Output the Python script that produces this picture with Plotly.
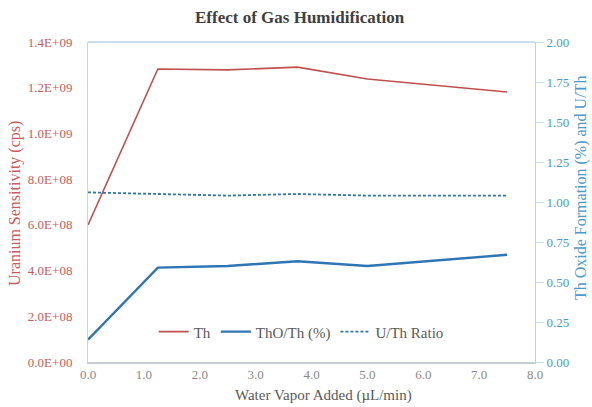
import plotly.graph_objects as go

water = [0.0, 1.25, 2.5, 3.75, 5.0, 7.5]
th_sens = [6.0e8, 1.282e9, 1.278e9, 1.29e9, 1.238e9, 1.181e9]
tho_th = [0.14, 0.59, 0.60, 0.63, 0.60, 0.67]
u_th = [1.06, 1.05, 1.04, 1.05, 1.04, 1.04]

left_ticks = [0, 2e8, 4e8, 6e8, 8e8, 1.0e9, 1.2e9, 1.4e9]
left_labels = ["0.0E+00", "2.0E+08", "4.0E+08", "6.0E+08", "8.0E+08", "1.0E+09", "1.2E+09", "1.4E+09"]
right_ticks = [0, 0.25, 0.5, 0.75, 1.0, 1.25, 1.5, 1.75, 2.0]
right_labels = ["0.00", "0.25", "0.50", "0.75", "1.00", "1.25", "1.50", "1.75", "2.00"]
x_ticks = [0, 1, 2, 3, 4, 5, 6, 7, 8]
x_labels = ["0.0", "1.0", "2.0", "3.0", "4.0", "5.0", "6.0", "7.0", "8.0"]

red = "#C0504D"
redlbl = "#CC5B5B"
blue = "#2E75B6"
rblue = "#4A9AD0"
font = "Liberation Serif, Times New Roman, DejaVu Serif, serif"

fig = go.Figure()
fig.add_trace(go.Scatter(x=water, y=th_sens, mode="lines", name="Th",
                         line=dict(color=red, width=1.6), yaxis="y"))
fig.add_trace(go.Scatter(x=water, y=tho_th, mode="lines", name="ThO/Th (%)",
                         line=dict(color=blue, width=2.4), yaxis="y2"))
fig.add_trace(go.Scatter(x=water, y=u_th, mode="lines", name="U/Th Ratio",
                         line=dict(color=blue, width=1.8, dash="3px,2px"), yaxis="y2"))

fig.update_layout(
    width=592, height=407,
    margin=dict(l=88, r=57, t=42, b=45),
    paper_bgcolor="white", plot_bgcolor="white",
    font=dict(family=font, size=13, color="#595959"),
    showlegend=True,
    legend=dict(orientation="h", x=0.147, y=0.094, xanchor="left", yanchor="middle",
                bgcolor="rgba(0,0,0,0)", font=dict(family=font, size=15, color="#595959"),
                itemwidth=30, tracegroupgap=0),
    xaxis=dict(range=[0, 8], tickvals=x_ticks, ticktext=x_labels, showgrid=False,
               zeroline=False, showline=True, linecolor="#C8CCD4", linewidth=1.5,
               ticks="", tickfont=dict(family=font, size=13, color="#8A8A8A")),
    yaxis=dict(range=[0, 1.4e9], tickvals=left_ticks, ticktext=left_labels, showgrid=False,
               zeroline=False, showline=True, linecolor="#D0D4DA", linewidth=1,
               ticks="outside", ticklen=12, tickcolor="rgba(0,0,0,0)",
               tickfont=dict(family=font, size=13, color=redlbl)),
    yaxis2=dict(range=[0, 2.0], tickvals=right_ticks, ticktext=right_labels, overlaying="y",
                side="right", showgrid=False, zeroline=False, showline=True,
                linecolor="#B8D4E8", linewidth=1, ticks="outside", ticklen=8,
                tickcolor="#C8DCEC", tickfont=dict(family=font, size=13, color=rblue)),
)
fig.add_shape(type="line", xref="paper", yref="paper", x0=0, x1=1, y0=1, y1=1,
              line=dict(color="#B8D4E8", width=1.5))

fig.add_annotation(text="<b>Effect of Gas Humidification</b>", xref="paper", yref="paper",
                   x=(300 - 88) / 447, y=1 + (42 - 17) / 320, xanchor="center", yanchor="middle",
                   showarrow=False, font=dict(family=font, size=17, color="#404040"))
fig.add_annotation(text="Water Vapor Added (µL/min)", xref="paper", yref="paper",
                   x=(323 - 88) / 447, y=-(395 - 362) / 320, xanchor="center", yanchor="middle",
                   showarrow=False, font=dict(family=font, size=15, color="#595959"))
fig.add_annotation(text="Uranium Sensitivity (cps)", xref="paper", yref="paper",
                   x=-(88 - 15) / 447, y=(362 - 204) / 320, xanchor="center", yanchor="middle",
                   textangle=-90, showarrow=False, font=dict(family=font, size=16, color=redlbl))
fig.add_annotation(text="Th Oxide Formation (%) and U/Th", xref="paper", yref="paper",
                   x=1 + (581 - 535) / 447, y=(362 - 188) / 320, xanchor="center", yanchor="middle",
                   textangle=-90, showarrow=False, font=dict(family=font, size=16, color=rblue))

fig.write_html("out.html", config={"displayModeBar": False},
               post_script="document.body.style.margin='0';")
